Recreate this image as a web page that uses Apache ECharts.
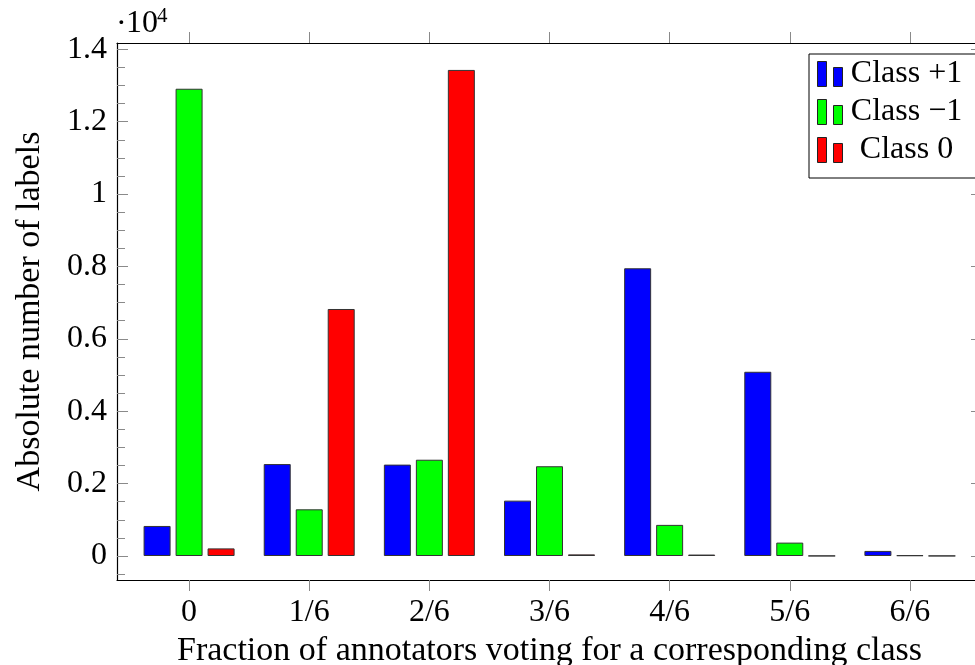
<!DOCTYPE html>
<html>
<head>
<meta charset="utf-8">
<script src="https://cdn.jsdelivr.net/npm/echarts@6/dist/echarts.min.js"></script>
<style>html,body{margin:0;padding:0;background:#fff;}#c{width:975px;height:665px;}</style>
</head>
<body>
<div id="c"></div>
<script>
// ---- data ----
const categories = ['0', '1/6', '2/6', '3/6', '4/6', '5/6', '6/6'];
const classPlus1 = [830, 2540, 2525, 1530, 7950, 5090, 140];
const classMinus1 = [12910, 1290, 2660, 2480, 860, 370, 20];
const class0 = [210, 6825, 13430, 45, 40, 5, 5];
const seriesNames = ['Class +1', 'Class \u22121', 'Class 0'];
const yTickValues = [0, 2000, 4000, 6000, 8000, 10000, 12000, 14000];
const yTickLabels = ['0', '0.2', '0.4', '0.6', '0.8', '1', '1.2', '1.4'];
const yMinorValues = [-500, 500, 1000, 1500, 2500, 3000, 3500, 4500, 5000, 5500, 6500, 7000, 7500, 8500, 9000, 9500, 10500, 11000, 11500, 12500, 13000, 13500];
const xTickValues = categories.map((c, i) => i);

const FONT = 'Liberation Serif';
const FS = 32;
const FS_NAME = 34;
const Y_MIN = -663, Y_MAX = 14174;
const X_MIN = -0.6, X_MAX = 6.6;

const chart = echarts.init(document.getElementById('c'), null, {renderer: 'canvas'});

function pairs(arr) { return arr.map((v, i) => [i, v]); }
const colors = ['#0000ff', '#00ff00', '#ff0000'];
const seriesData = [classPlus1, classMinus1, class0];

const tickGray = '#8a8a8a';

const option = {
  animation: false,
  backgroundColor: '#ffffff',
  grid: {left: 117, top: 43, width: 865, height: 537, outerBoundsMode: 'none', containLabel: false},
  textStyle: {fontFamily: FONT},
  legend: {
    left: 809, top: 54, orient: 'vertical',
    padding: [4, 14, 12, 8],
    itemWidth: 25, itemHeight: 25, itemGap: 6,
    borderColor: '#000', borderWidth: 1, backgroundColor: '#fff',
    icon: 'path://M0,0H9V25H0Z M16,6H25V25H16Z',
    itemStyle: {borderColor: '#222', borderWidth: 1},
    formatter: function (name) { return '{t|' + name + '}'; },
    textStyle: {
      fontFamily: FONT, fontSize: FS, color: '#000', lineHeight: 25, height: 25,
      rich: {t: {fontFamily: FONT, fontSize: FS, color: '#000', width: 118, height: 25, align: 'center', lineHeight: 25}}
    },
    data: seriesNames
  },
  graphic: [
    {type: 'text', left: 116, top: 9, style: {text: '\u00B7', fontFamily: FONT, fontSize: FS, fill: '#000'}},
    {type: 'text', left: 126, top: 8, style: {text: '10', fontFamily: FONT, fontSize: FS, fill: '#000'}},
    {type: 'text', left: 157, top: 6, style: {text: '4', fontFamily: FONT, fontSize: 21, fill: '#000'}}
  ],
  xAxis: [
    {
      type: 'value', position: 'bottom', min: X_MIN, max: X_MAX,
      name: 'Fraction of annotators voting for a corresponding class',
      nameLocation: 'middle', nameGap: 38,
      nameTextStyle: {fontFamily: FONT, fontSize: FS_NAME, color: '#000'},
      axisLine: {show: true, onZero: false, lineStyle: {color: '#000', width: 1.2}},
      axisTick: {show: true, inside: false, length: 11, customValues: xTickValues, lineStyle: {color: tickGray, width: 1}},
      axisLabel: {show: true, margin: 17, customValues: xTickValues, fontFamily: FONT, fontSize: FS, color: '#000',
        formatter: function (v) { return categories[Math.round(v)]; }},
      splitLine: {show: false}
    },
    {
      type: 'value', position: 'top', min: X_MIN, max: X_MAX,
      axisLine: {show: true, onZero: false, lineStyle: {color: '#000', width: 1.2}},
      axisTick: {show: true, inside: false, length: 11, customValues: xTickValues, lineStyle: {color: tickGray, width: 1}},
      axisLabel: {show: false},
      splitLine: {show: false}
    }
  ],
  yAxis: [
    {
      type: 'value', position: 'left', min: Y_MIN, max: Y_MAX,
      name: 'Absolute number of labels', nameLocation: 'middle', nameGap: 70,
      nameTextStyle: {fontFamily: FONT, fontSize: FS_NAME, color: '#000'},
      axisLine: {show: true, onZero: false, lineStyle: {color: '#000', width: 1.2}},
      axisTick: {show: true, inside: true, length: 11, customValues: yTickValues, lineStyle: {color: tickGray, width: 1}},
      axisLabel: {show: true, margin: 10, customValues: yTickValues, fontFamily: FONT, fontSize: FS, color: '#000',
        formatter: function (v) { const i = yTickValues.indexOf(v); return i >= 0 ? yTickLabels[i] : ''; }},
      splitLine: {show: false}
    },
    {
      type: 'value', position: 'left', min: Y_MIN, max: Y_MAX,
      axisLine: {show: false, onZero: false},
      axisTick: {show: true, inside: true, length: 8, customValues: yMinorValues, lineStyle: {color: tickGray, width: 1}},
      axisLabel: {show: false},
      splitLine: {show: false}
    },
    {
      type: 'value', position: 'right', min: Y_MIN, max: Y_MAX,
      axisLine: {show: true, onZero: false, lineStyle: {color: '#000', width: 1.2}},
      axisTick: {show: true, inside: true, length: 11, customValues: yTickValues, lineStyle: {color: tickGray, width: 1}},
      axisLabel: {show: false},
      splitLine: {show: false}
    }
  ],
  series: seriesNames.map((name, k) => ({
    name: name, type: 'bar', xAxisIndex: 0, yAxisIndex: 0,
    barWidth: 27, barGap: '18.5%',
    itemStyle: {color: colors[k], borderColor: '#333', borderWidth: 1},
    data: pairs(seriesData[k])
  }))
};
chart.setOption(option);
</script>
</body>
</html>
